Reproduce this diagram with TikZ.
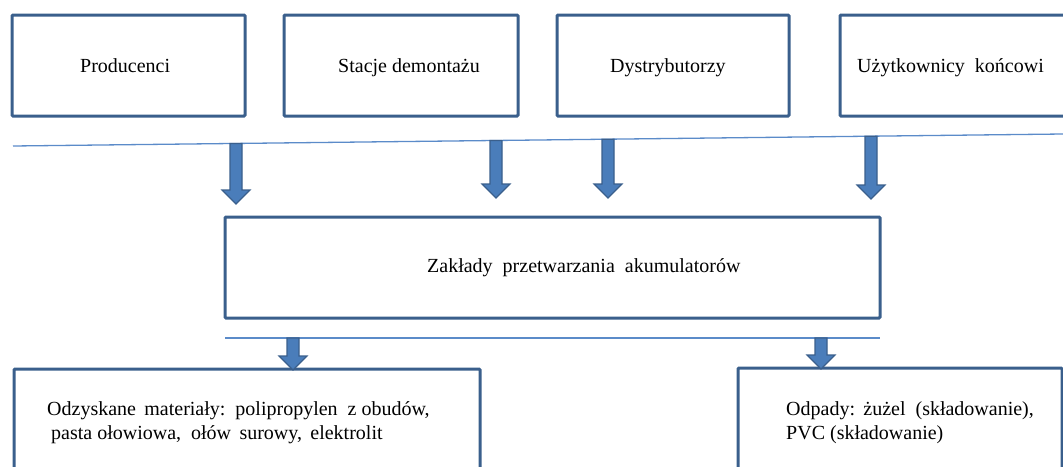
\documentclass[tikz,border=0pt]{standalone}
\usepackage{fontspec}
\setmainfont{Liberation Serif}
\usetikzlibrary{calc}
\definecolor{boxblue}{HTML}{3A5F8C}
\definecolor{arrowblue}{HTML}{4A7DBA}
\definecolor{lineblue}{HTML}{5B8BC9}
\tikzset{
  box/.style={draw=boxblue, line width=3pt, rounded corners=1pt, inner sep=0pt},
  txt/.style={anchor=base west, inner sep=0pt, font=\fontsize{20}{26}\selectfont},
  sepline/.style={draw=lineblue, line width=1.3pt}
}
\def\blockarrow(#1)(#2){\filldraw[fill=arrowblue, draw=boxblue, line width=1.2pt] let \p1=(#1), \p2=(#2) in (\x1-6pt,\y1) -- (\x1+6pt,\y1) -- (\x1+6pt,\y2+14pt) -- (\x1+14pt,\y2+14pt) -- (\x1,\y2) -- (\x1-14pt,\y2+14pt) -- (\x1-6pt,\y2+14pt) -- cycle;}

\begin{document}
\begin{tikzpicture}[x=1pt, y=-1pt]
			%%%%% START %%%%%
			\useasboundingbox (0, 0) rectangle (1063, 466);
			\clip (0, 0) rectangle (1063, 466);

			% top row
			\node[box, minimum width=233pt, minimum height=101pt] (prod) at (128.5, 65.5) {};
			\node[box, minimum width=234pt, minimum height=101pt] (stac) at (401, 65.5) {};
			\node[box, minimum width=232pt, minimum height=101pt] (dyst) at (673, 65.5) {};
			\node[box, minimum width=236pt, minimum height=101pt] (uzyt) at (958, 65.5) {};
			\node[txt] (prodtxt) at (80, 72.5) {Producenci};
			\node[txt] (stactxt) at (338, 72.5) {Stacje demontażu};
			\node[txt] (dysttxt) at (610, 72.5) {Dystrybutorzy};
			\node[txt] (uzyttxt) at (857, 72.5) {Użytkownicy\ \ końcowi};

			\coordinate (sepL) at (13, 146);
			\coordinate (sepR) at (1063, 134);
			\draw[sepline] (sepL) -- (sepR);

			% middle box
			\node[box, minimum width=655pt, minimum height=101pt] (zakl) at (552.5, 267.5) {};
			\node[txt] (zakltxt) at (427, 272) {Zakłady\ \ przetwarzania\ \ akumulatorów};

			\coordinate (s1) at (236, 143.4);
			\coordinate (s2) at (496, 140.5);
			\coordinate (s3) at (608, 139.2);
			\coordinate (s4) at (871, 136.2);
			\coordinate (t1) at (236, 204);
			\coordinate (t2) at (496, 198);
			\coordinate (t3) at (608, 198);
			\coordinate (t4) at (871, 199);
			\blockarrow(s1)(t1)
			\blockarrow(s2)(t2)
			\blockarrow(s3)(t3)
			\blockarrow(s4)(t4)

			\coordinate (lowL) at (225, 338);
			\coordinate (lowR) at (880, 338);
			\draw[sepline] (lowL) -- (lowR);

			% bottom row
			\node[box, minimum width=466pt, minimum height=140pt] (odzy) at (247, 439) {};
			\node[box, minimum width=324pt, minimum height=140pt] (odpa) at (900, 438) {};
			\node[txt] (odzytxt) at (47, 415) {Odzyskane\ \,materiały:\ \ polipropylen\ \ z\ obudów,};
			\node[txt] (odzytxtb) at (51, 439) {pasta ołowiowa,\ \ ołów\ \,surowy,\ \,elektrolit};
			\node[txt] (odpatxt) at (786, 415) {Odpady:\ \,żużel\ \ (składowanie),};
			\node[txt] (odpatxtb) at (786, 439) {PVC (składowanie)};

			\coordinate (b1) at (293, 338);
			\coordinate (b2) at (821, 338);
			\coordinate (c1) at (293, 370);
			\coordinate (c2) at (821, 369);
			\blockarrow(b1)(c1)
			\blockarrow(b2)(c2)
			%%%%% END %%%%%
\end{tikzpicture}
\end{document}
